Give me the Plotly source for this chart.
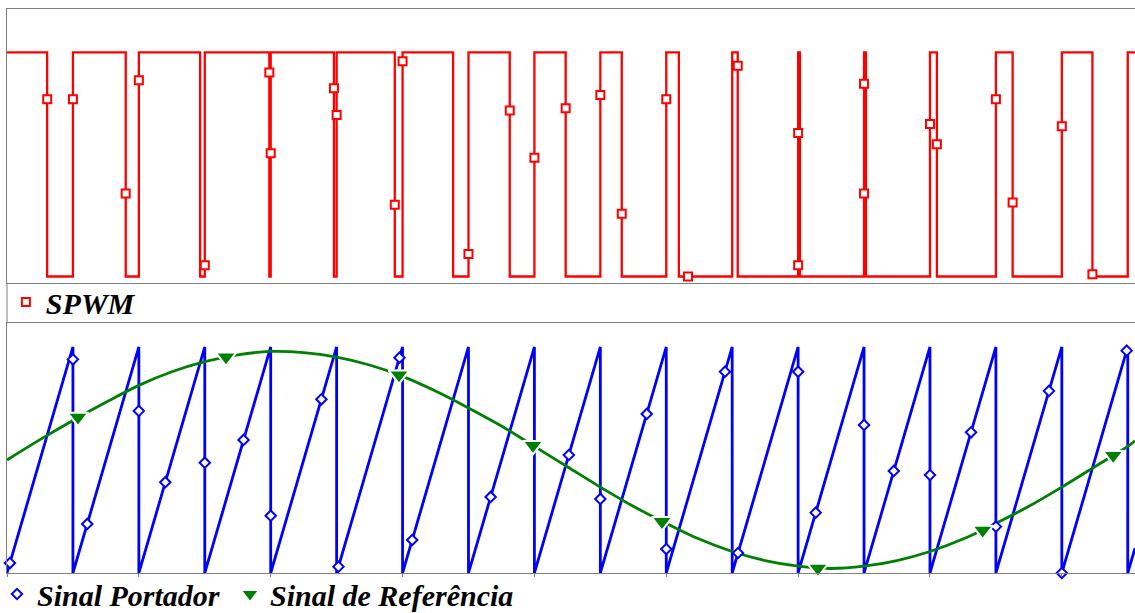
import plotly.graph_objects as go

# ---------------- data (time in ms) ----------------
T_END = 17.11

# SPWM output: 1 = high, 0 = low
spwm_fall = [0.609, 1.801, 2.929, 3.979, 4.959, 5.882, 6.767, 7.626, 8.474,
             9.325, 10.191, 11.084, 12.027, 13.029, 14.105, 15.254, 16.464]
spwm_rise = [1, 2, 3, 4, 5, 6, 7, 8, 9, 10, 11, 12, 13, 14, 15, 16, 17]
spwm_high = 1
spwm_low = 0

spwm_mk_t = [0.61, 1.0, 1.80, 2.0, 3.0, 3.979, 4.0, 4.959, 5.0, 5.882, 6.0, 7.0,
             7.626, 8.0, 8.474, 9.0, 9.325, 10.0, 10.33, 11.084, 12.0, 12.0,
             13.0, 13.0, 14.0, 14.105, 15.0, 15.254, 16.0, 16.464]
spwm_mk_v = [0.79, 0.79, 0.37, 0.875, 0.05, 0.91, 0.55, 0.84, 0.72, 0.32, 0.96, 0.10,
             0.74, 0.53, 0.75, 0.81, 0.28, 0.79, 0.0, 0.94, 0.64, 0.05,
             0.86, 0.37, 0.68, 0.59, 0.79, 0.33, 0.67, 0.01]

# Carrier (sawtooth)
carrier_resets = [1, 2, 3, 4, 5, 6, 7, 8, 9, 10, 11, 12, 13, 14, 15, 16, 17]
carrier_min = -1.0
carrier_max = 1.0
carrier_end = -0.78

carrier_mk_t = [0.044, 1.0, 1.217, 2.0, 2.401, 3.0, 3.588, 4.0, 4.769, 5.028, 5.953,
                6.146, 7.336, 8.522, 9.0, 9.704, 10.0, 10.891, 11.088, 12.0, 12.267,
                13.0, 13.451, 14.0, 14.623, 15.0, 15.805, 16.0, 16.984]
carrier_mk_v = [-0.912, 0.89, -0.566, 0.434, -0.197, -0.024, 0.177, -0.493, 0.537, -0.944, 0.905,
                -0.708, -0.327, 0.044, -0.345, 0.407, -0.788, 0.781, -0.823, 0.781, -0.466,
                0.31, -0.097, -0.133, 0.245, -0.59, 0.611, -1.0, 0.967]

# Reference (sine)
ref_t = [0, 0.5, 1.0, 1.5, 2.0, 2.5, 3.0, 3.5, 4.0, 4.5, 5.0, 5.5, 6.0, 6.5, 7.0, 7.5,
         8.0, 8.5, 9.0, 9.5, 10.0, 10.5, 11.0, 11.5, 12.0, 12.5, 13.0, 13.5, 14.0,
         14.5, 15.0, 15.5, 16.0, 16.5, 17.0, 17.11]
ref_v = [0, 0.18, 0.35, 0.51, 0.66, 0.78, 0.87, 0.93, 0.96, 0.95, 0.91, 0.84, 0.74,
         0.61, 0.46, 0.30, 0.12, -0.06, -0.24, -0.41, -0.56, -0.70, -0.81, -0.89,
         -0.94, -0.96, -0.94, -0.89, -0.81, -0.70, -0.56, -0.41, -0.24, -0.06, 0.12, 0.17]

ref_mk_t = [1.077, 3.322, 5.946, 7.978, 9.935, 12.30, 14.80, 16.78]
ref_mk_v = [0.379, 0.912, 0.752, 0.129, -0.545, -0.957, -0.621, 0.040]

# ---------------- build line geometry from data ----------------
sx, sy = [0], [spwm_high]
for f, r in zip(spwm_fall, spwm_rise):
    sx += [f, r]
    sy += [spwm_low, spwm_high]
sx.append(T_END)
sy.append(spwm_high)

cx, cy = [0], [carrier_min]
for r in carrier_resets:
    cx += [r, r]
    cy += [carrier_max, carrier_min]
cx.append(T_END)
cy.append(carrier_end)

RED = "#FF0000"
BLUE = "#0000FF"
GREEN = "#008000"
FRAME = "#808080"

fig = go.Figure()

# top panel
fig.add_trace(go.Scatter(x=sx, y=sy, mode="lines", line=dict(color=RED, width=2.3, shape="hv"),
                         showlegend=False, xaxis="x", yaxis="y", hoverinfo="skip"))
fig.add_trace(go.Scatter(x=spwm_mk_t, y=spwm_mk_v, mode="markers", name="SPWM",
                         marker=dict(symbol="square", size=8, color="white",
                                     line=dict(color=RED, width=2)),
                         cliponaxis=False, legend="legend", xaxis="x", yaxis="y"))

# bottom panel
fig.add_trace(go.Scatter(x=cx, y=cy, mode="lines", line=dict(color=BLUE, width=2.8),
                         showlegend=False, xaxis="x2", yaxis="y2", hoverinfo="skip"))
fig.add_trace(go.Scatter(x=ref_t, y=ref_v, mode="lines",
                         line=dict(color=GREEN, width=2.8, shape="spline"),
                         showlegend=False, xaxis="x2", yaxis="y2", hoverinfo="skip"))
fig.add_trace(go.Scatter(x=carrier_mk_t, y=carrier_mk_v, mode="markers", name="Sinal Portador",
                         marker=dict(symbol="diamond", size=8, color="white",
                                     line=dict(color=BLUE, width=2)),
                         cliponaxis=False, legend="legend2", xaxis="x2", yaxis="y2"))
fig.add_trace(go.Scatter(x=ref_mk_t, y=ref_mk_v, mode="markers", name="Sinal de Referência",
                         marker=dict(symbol="triangle-down", size=18, color=GREEN,
                                     line=dict(color="white", width=2)),
                         cliponaxis=False, legend="legend3", xaxis="x2", yaxis="y2"))

TOP_LO = 0.5147
BOT_HI = 0.4427

legend_font = dict(family="'Liberation Serif', 'Times New Roman', 'DejaVu Serif', serif",
                   size=30, color="black", weight="bold", style="italic")

def leg(x, y):
    return dict(x=x, y=y, xanchor="left", yanchor="middle", font=legend_font,
                bgcolor="rgba(0,0,0,0)", borderwidth=0)

fig.update_layout(
    width=1135, height=613,
    margin=dict(l=7, r=0, t=9, b=40, autoexpand=False),
    paper_bgcolor="white", plot_bgcolor="white",
    xaxis=dict(domain=[0, 1], range=[0, T_END], anchor="y", showline=True, mirror=True,
               linecolor=FRAME, linewidth=1, showgrid=False, zeroline=False,
               showticklabels=False, ticks=""),
    yaxis=dict(domain=[TOP_LO, 1.0], range=[-0.0277, 1.193], anchor="x", showline=True,
               linecolor=FRAME, linewidth=1, showgrid=False, zeroline=False,
               showticklabels=False, ticks=""),
    xaxis2=dict(domain=[0, 1], range=[0, T_END], anchor="y2", showline=True, mirror=True,
                linecolor=FRAME, linewidth=1, showgrid=False, zeroline=False,
                showticklabels=False, ticks="outside", ticklen=3, tickcolor=FRAME,
                tick0=0, dtick=2),
    yaxis2=dict(domain=[0, BOT_HI], range=[-1.0, 1.209], anchor="x2", showline=True,
                linecolor=FRAME, linewidth=1, showgrid=False, zeroline=False,
                showticklabels=False, ticks=""),
    legend=leg(-0.0010, (573 - 302) / 564),
    legend2=leg(-0.0089, (573 - 594) / 564),
    legend3=leg(0.1977, (573 - 594) / 564),
    shapes=[dict(type="line", xref="paper", yref="paper", x0=0, x1=0,
                 y0=BOT_HI, y1=TOP_LO, line=dict(color=FRAME, width=1))],
    showlegend=True,
)

fig.write_html("out.html", config={"displayModeBar": False},
               post_script="document.body.style.margin='0px';document.body.style.padding='0px';")
